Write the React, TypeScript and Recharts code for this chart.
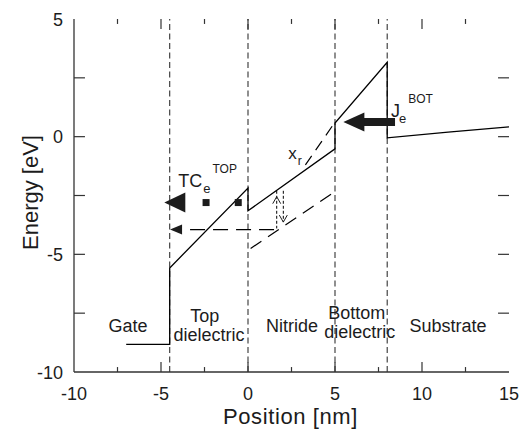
import React from "react"
import { ComposedChart, Line, Scatter, XAxis, YAxis, ReferenceLine } from "recharts"

// axis ticks (labels only on multiples of 5)
const xTicks = [-10, -7.5, -5, -2.5, 0, 2.5, 5, 7.5, 10, 12.5, 15]
const yTicks = [-10, -7.5, -5, -2.5, 0, 2.5, 5]

// layer interfaces (nm)
const layerBounds = [-4.5, 0, 5, 8]

// conduction band edge, gate -> substrate
const bandEdge = [
  { x: -7, y: -8.83 },
  { x: -4.5, y: -8.83 },
  { x: -4.5, y: -5.58 },
  { x: 0, y: -2.18 },
  { x: 0, y: -3.15 },
  { x: 5, y: -0.52 },
  { x: 5, y: 0.58 },
  { x: 8, y: 3.16 },
  { x: 8, y: -0.05 },
  { x: 11.5, y: 0.19 },
  { x: 15, y: 0.42 },
]

// dashed guides
const trapLevel = [{ x: 0.15, y: -4.75 }, { x: 5, y: -2.33 }]
const xrLine = [{ x: 3.3, y: -1.2 }, { x: 5, y: 0.62 }]
const emission = [{ x: -3.33, y: -3.95 }, { x: 1.65, y: -3.95 }]

// dotted up / down shift
const upShift = [{ x: 1.65, y: -2.3 }, { x: 1.65, y: -3.9 }]
const downShift = [{ x: 2.03, y: -2.3 }, { x: 2.03, y: -3.63 }]
const upTip = [{ x: 1.65, y: -2.55 }]
const downTip = [{ x: 2.03, y: -3.63 }]

// arrows and traps
const bigHead = [{ x: -4.81, y: -2.8 }]
const smallHead = [{ x: -4.48, y: -3.95 }]
const trapDots = [{ x: -2.41, y: -2.8 }, { x: -0.56, y: -2.8 }]
const jHead = [{ x: 5.48, y: 0.62 }]
const jShaft = [{ x: 6.55, y: 0.62 }, { x: 8.45, y: 0.62 }]

// region names
const regionLabels = [
  { x: -6.9, y: -8.3, text: "Gate" },
  { x: -2.49, y: -7.87, text: "Top" },
  { x: -2.24, y: -8.68, text: "dielectric" },
  { x: 2.53, y: -8.3, text: "Nitride" },
  { x: 6.25, y: -7.74, text: "Bottom" },
  { x: 6.42, y: -8.55, text: "dielectric" },
  { x: 11.49, y: -8.3, text: "Substrate" },
]

// symbols with sub / superscripts
const symbolLabels = [
  { x: -4.01, y: -2.14, base: "TC", sub: "e", sup: "TOP" },
  { x: 8.22, y: 0.84, base: "J", sub: "e", sup: "BOT" },
  { x: 2.32, y: -0.93, base: "x", sub: "r", sup: "" },
]

const FONT = '"Liberation Sans", Arial, Helvetica, sans-serif'
const INK = "#1c1c1c"
const FRAME = "#333"

// tick lengths in axis units (about 10 / 5 px on x, 11 px on y)
const X_MAJOR = 0.425
const X_MINOR = 0.21
const Y_LEN = 0.63

const BottomTick = (props: any) => {
  const { x, y, payload } = props
  if (payload.value % 5 !== 0) return <g />
  return (
    <text x={x} y={y + 28} textAnchor="middle" fontSize={18} fontFamily={FONT} fill={INK}>
      {payload.value}
    </text>
  )
}

const LeftTick = (props: any) => {
  const { x, y, payload } = props
  if (payload.value % 5 !== 0) return <g />
  return (
    <text x={x - 11} y={y + 6.5} textAnchor="end" fontSize={18} fontFamily={FONT} fill={INK}>
      {payload.value}
    </text>
  )
}

const leftHead = (len: number, half: number) => (p: any) => (
  <polygon points={`${p.cx},${p.cy} ${p.cx + len},${p.cy - half} ${p.cx + len},${p.cy + half}`} fill={INK} />
)

const squareShape = (p: any) => <rect x={p.cx - 3.5} y={p.cy - 3.5} width={7} height={7} fill={INK} />

const chevron = (dir: number) => (p: any) => (
  <polyline
    points={`${p.cx - 4},${p.cy + dir * 7} ${p.cx},${p.cy} ${p.cx + 4},${p.cy + dir * 7}`}
    fill="none"
    stroke={INK}
    strokeWidth={1}
  />
)

const regionText = (p: any) => (
  <text x={p.cx} y={p.cy} textAnchor="middle" fontSize={18} fontFamily={FONT} fill={INK}>
    {p.payload.text}
  </text>
)

const symbolText = (p: any) => {
  const { base, sub, sup } = p.payload
  const big = base === "x" ? 17 : 18
  return (
    <text x={p.cx} y={p.cy} fontSize={big} fontFamily={FONT} fill={INK}>
      {base}
      <tspan dx={base === "J" ? -1 : 1} dy={6} fontSize={base === "x" ? 12 : 13}>
        {sub}
      </tspan>
      {sup && (
        <tspan dx={2} dy={-20} fontSize={12}>
          {sup}
        </tspan>
      )}
    </text>
  )
}

const xTitle = (props: any) => {
  const vb = props.viewBox
  return (
    <text x={vb.x + vb.width / 2 - 1} y={424} textAnchor="middle" fontSize={22} letterSpacing={0.6} fontFamily={FONT} fill={INK}>
      Position [nm]
    </text>
  )
}

const yTitle = (props: any) => {
  const vb = props.viewBox
  return (
    <text
      transform={`translate(38, ${vb.y + vb.height / 2 - 3}) rotate(-90)`}
      textAnchor="middle"
      fontSize={22}
      fontFamily={FONT}
      fill={INK}
    >
      Energy [eV]
    </text>
  )
}

const innerX = xTicks.filter((v) => v > -10 && v < 15)
const innerY = yTicks.filter((v) => v > -10 && v < 5)

export default function App() {
  return (
    <div style={{ position: "absolute", left: 0, top: 0, width: 527, height: 429, background: "#fff" }}>
      <ComposedChart width={527} height={429} margin={{ top: 19, right: 18, bottom: 0, left: 0 }}>
        <XAxis
          dataKey="x"
          type="number"
          domain={[-10, 15]}
          allowDataOverflow
          ticks={xTicks}
          interval={0}
          height={57}
          tickSize={0}
          tickMargin={0}
          tickLine={false}
          tick={BottomTick}
          axisLine={{ stroke: FRAME, strokeWidth: 1.3 }}
          label={xTitle}
        />
        <XAxis
          xAxisId="top"
          orientation="top"
          type="number"
          domain={[-10, 15]}
          allowDataOverflow
          ticks={xTicks}
          height={0}
          tickLine={false}
          tick={false}
          axisLine={{ stroke: FRAME, strokeWidth: 1.3 }}
        />
        <YAxis
          dataKey="y"
          type="number"
          domain={[-10, 5]}
          allowDataOverflow
          ticks={yTicks}
          interval={0}
          width={74}
          tickSize={0}
          tickMargin={0}
          tickLine={false}
          tick={LeftTick}
          axisLine={{ stroke: FRAME, strokeWidth: 1.3 }}
          label={yTitle}
        />
        <YAxis
          yAxisId="right"
          orientation="right"
          type="number"
          domain={[-10, 5]}
          allowDataOverflow
          ticks={yTicks}
          width={0}
          tickLine={false}
          tick={false}
          axisLine={{ stroke: FRAME, strokeWidth: 1.3 }}
        />

        {/* inward ticks on all four sides */}
        {innerX.map((v) => (
          <ReferenceLine
            key={`b${v}`}
            segment={[{ x: v, y: -10 }, { x: v, y: -10 + (v % 5 === 0 ? X_MAJOR : X_MINOR) }]}
            stroke={FRAME}
            strokeWidth={1.2}
          />
        ))}
        {innerX.map((v) => (
          <ReferenceLine
            key={`t${v}`}
            segment={[{ x: v, y: 5 }, { x: v, y: 5 - (v % 5 === 0 ? X_MAJOR : X_MINOR) }]}
            stroke={FRAME}
            strokeWidth={1.2}
          />
        ))}
        {innerY.map((v) => (
          <ReferenceLine key={`l${v}`} segment={[{ x: -10, y: v }, { x: -10 + Y_LEN, y: v }]} stroke={FRAME} strokeWidth={1.2} />
        ))}
        {innerY.map((v) => (
          <ReferenceLine key={`r${v}`} segment={[{ x: 15, y: v }, { x: 15 - Y_LEN, y: v }]} stroke={FRAME} strokeWidth={1.2} />
        ))}

        {layerBounds.map((b) => (
          <ReferenceLine key={b} x={b} stroke="#333" strokeWidth={1.1} strokeDasharray="6 3.5" />
        ))}

        <Line data={bandEdge} dataKey="y" type="linear" stroke="#000" strokeWidth={1.3} dot={false} isAnimationActive={false} />
        <Line data={trapLevel} dataKey="y" type="linear" stroke="#000" strokeWidth={1.2} strokeDasharray="13 8" dot={false} isAnimationActive={false} />
        <Line data={xrLine} dataKey="y" type="linear" stroke="#000" strokeWidth={1.2} strokeDasharray="11 7" dot={false} isAnimationActive={false} />
        <Line data={emission} dataKey="y" type="linear" stroke="#000" strokeWidth={1.2} strokeDasharray="15 8" dot={false} isAnimationActive={false} />
        <Line data={upShift} dataKey="y" type="linear" stroke="#000" strokeWidth={1} strokeDasharray="3 2" dot={false} isAnimationActive={false} />
        <Line data={downShift} dataKey="y" type="linear" stroke="#000" strokeWidth={1} strokeDasharray="3 2" dot={false} isAnimationActive={false} />
        <Line data={jShaft} dataKey="y" type="linear" stroke={INK} strokeWidth={8} dot={false} isAnimationActive={false} />

        <Scatter data={upTip} shape={chevron(1)} isAnimationActive={false} />
        <Scatter data={downTip} shape={chevron(-1)} isAnimationActive={false} />
        <Scatter data={bigHead} shape={leftHead(21, 10)} isAnimationActive={false} />
        <Scatter data={smallHead} shape={leftHead(12, 5)} isAnimationActive={false} />
        <Scatter data={jHead} shape={leftHead(21, 9.5)} isAnimationActive={false} />
        <Scatter data={trapDots} shape={squareShape} isAnimationActive={false} />
        <Scatter data={regionLabels} shape={regionText} isAnimationActive={false} />
        <Scatter data={symbolLabels} shape={symbolText} isAnimationActive={false} />
      </ComposedChart>
    </div>
  )
}
